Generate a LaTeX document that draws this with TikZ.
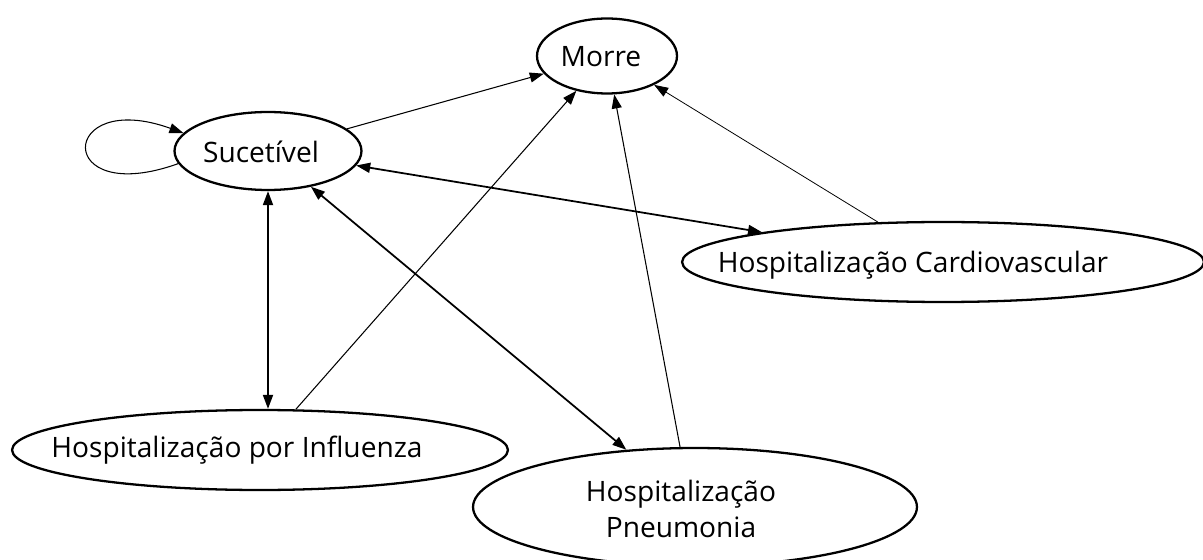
\documentclass[tikz,border=0pt]{standalone}
\usepackage{fontspec}
\setmainfont{Open Sans}
\usetikzlibrary{shapes.geometric,arrows.meta}

\tikzset{
  state/.style={ellipse,draw,line width=1.3pt,inner sep=0pt},
  statetext/.style={font=\fontsize{16}{20}\selectfont,align=center,inner sep=0pt},
  arr/.style={-{Triangle[length=2.8mm,width=2mm]},line width=0.6pt},
  biarr/.style={{Triangle[length=2.8mm,width=2mm]}-{Triangle[length=2.8mm,width=2mm]},line width=1pt}
}

\begin{document}
\begin{tikzpicture}[x=0.02cm,y=-0.02cm]
\useasboundingbox (0,0) rectangle (1203,560);
% states
\node[state,minimum width=2.8cm,minimum height=1.5cm] (morre) at (607,56) {};
\node[state,minimum width=3.74cm,minimum height=1.56cm] (suc) at (268,151) {};
\node[state,minimum width=10.44cm,minimum height=1.6cm] (card) at (943,262) {};
\node[state,minimum width=9.92cm,minimum height=1.6cm] (infl) at (260,450) {};
\node[state,minimum width=8.88cm,minimum height=2.36cm] (pneu) at (695,507) {};
\node[statetext] (morretxt) at (601,57) {Morre};
\node[statetext] (suctxt) at (261,152) {Sucetível};
\node[statetext] (cardtxt) at (913,265) {Hospitalização Cardiovascular};
\node[statetext] (infltxt) at (237,450) {Hospitalização por Influenza};
\node[statetext] (pneutxt) at (681,509) {Hospitalização\\Pneumonia};
% transitions
\draw[arr] (suc.188) .. controls +(-125,45) and +(-125,-45) .. (suc.168);
\draw[arr] (suc) -- (morre);
\draw[arr] (infl) -- (morre);
\draw[arr] (pneu.104) -- (morre);
\draw[arr,line width=0.45pt] (card) -- (morre);
\draw[biarr] (suc) -- (card);
\draw[biarr] (suc.south) -- (suc.south |- infl.north);
\draw[biarr] (suc) -- (pneu);
\end{tikzpicture}
\end{document}
